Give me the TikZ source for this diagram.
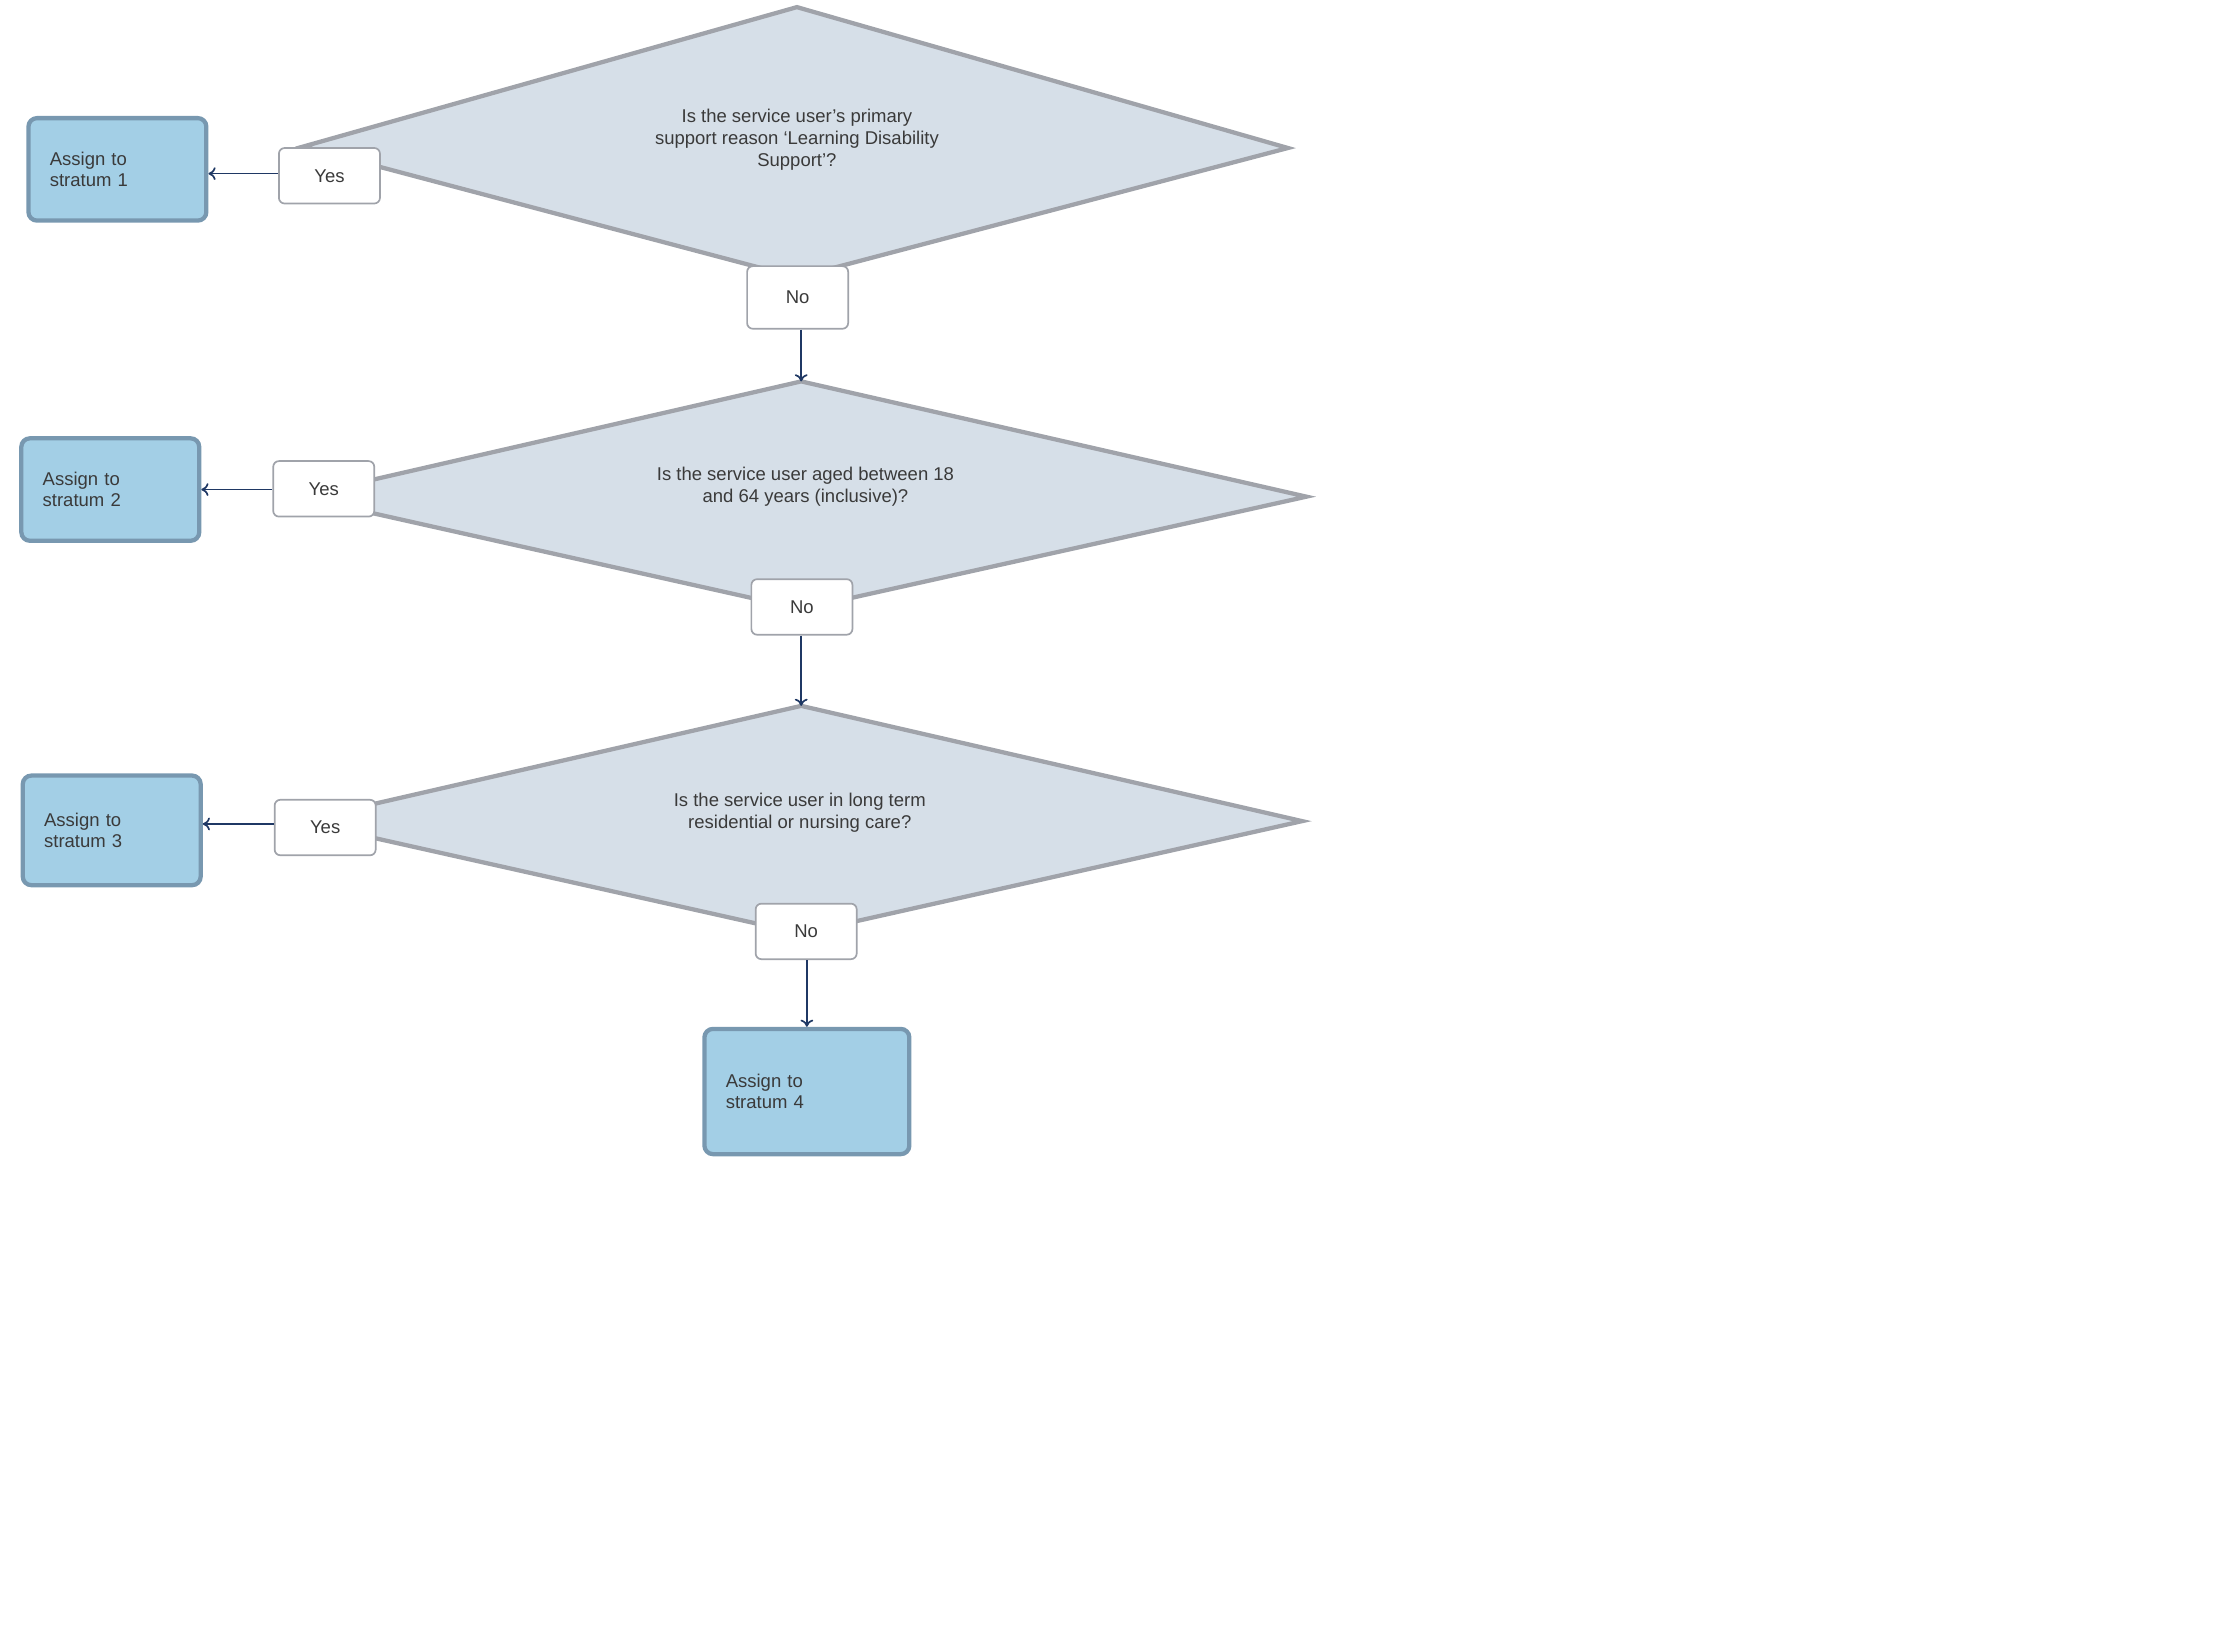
\documentclass[tikz,border=0pt]{standalone}
\usepackage{fontspec}
\setmainfont{Liberation Sans}
\usetikzlibrary{arrows.meta}
\definecolor{dfill}{HTML}{D6DFE8}
\definecolor{dline}{HTML}{A0A3AA}
\definecolor{bfill}{HTML}{A3CFE6}
\definecolor{bline}{HTML}{7898B0}
\definecolor{txt}{HTML}{3A3A3A}
\definecolor{arr}{HTML}{1F3864}
\begin{document}
\begin{tikzpicture}[x=1pt,y=-1pt,
  dia/.style={fill=dfill,draw=dline,line width=3pt,line join=miter},
  box/.style={rectangle,rounded corners=6pt,fill=bfill,draw=bline,line width=3pt,text=txt,font=\fontsize{13}{15}\selectfont,align=left,inner sep=0pt},
  lab/.style={rectangle,rounded corners=4pt,fill=white,draw=dline,line width=1.2pt,text=txt,font=\fontsize{13}{15}\selectfont,inner sep=0pt},
  q/.style={text=txt,font=\fontsize{13}{15.5}\selectfont,align=center},
  ar/.style={draw=arr,line width=1.2pt,-{To[length=5pt,width=9pt]}}]
\useasboundingbox (0,0) rectangle (1560,1160);
% diamonds
\coordinate (d1t) at (560,5); \coordinate (d1r) at (905,104); \coordinate (d1b) at (560,195); \coordinate (d1l) at (213,103);
\coordinate (d2t) at (563,268); \coordinate (d2r) at (918,349); \coordinate (d2b) at (563,428); \coordinate (d2l) at (210,349);
\coordinate (d3t) at (563,496); \coordinate (d3r) at (915,577); \coordinate (d3b) at (563,656); \coordinate (d3l) at (210,577);
\draw[dia] (d1t)--(d1r)--(d1b)--(d1l)--cycle;
\draw[dia] (d2t)--(d2r)--(d2b)--(d2l)--cycle;
\draw[dia] (d3t)--(d3r)--(d3b)--(d3l)--cycle;
\node[q] (q1) at (560,98) {Is the service user’s primary\\support reason ‘Learning Disability\\Support’?};
\node[q] (q2) at (566,342) {Is the service user aged between 18\\and 64 years (inclusive)?};
\node[q] (q3) at (562,571) {Is the service user in long term\\residential or nursing care?};
% boxes
\node[box,minimum width=125pt,minimum height=72pt,text width=95pt] (s1) at (82.5,119) {Assign to\\stratum 1};
\node[box,minimum width=125pt,minimum height=72pt,text width=95pt] (s2) at (77.5,344) {Assign to\\stratum 2};
\node[box,minimum width=125pt,minimum height=77pt,text width=95pt] (s3) at (78.5,583.5) {Assign to\\stratum 3};
\node[box,minimum width=144pt,minimum height=88pt,text width=114pt] (s4) at (567,767) {Assign to\\stratum 4};
% labels
\node[lab,minimum width=71pt,minimum height=39pt] (y1) at (231.5,123.5) {Yes};
\node[lab,minimum width=71pt,minimum height=39pt] (y2) at (227.5,343.5) {Yes};
\node[lab,minimum width=71pt,minimum height=39pt] (y3) at (228.5,581.5) {Yes};
\node[lab,minimum width=71pt,minimum height=44pt] (n1) at (560.5,209) {No};
\node[lab,minimum width=71pt,minimum height=39pt] (n2) at (563.5,426.5) {No};
\node[lab,minimum width=71pt,minimum height=39pt] (n3) at (566.5,654.5) {No};
% arrows
\draw[ar] (y1.west|-0,122) -- (s1.east|-0,122);
\draw[ar] (y2.west|-0,344) -- (s2.east|-0,344);
\draw[ar] (y3.west|-0,579) -- (s3.east|-0,579);
\draw[ar] (n1.south-|563,0) -- (d2t);
\draw[ar] (n2.south-|563,0) -- (d3t);
\draw[ar] (n3.south-|567,0) -- (s4.north-|567,0);
\end{tikzpicture}
\end{document}
